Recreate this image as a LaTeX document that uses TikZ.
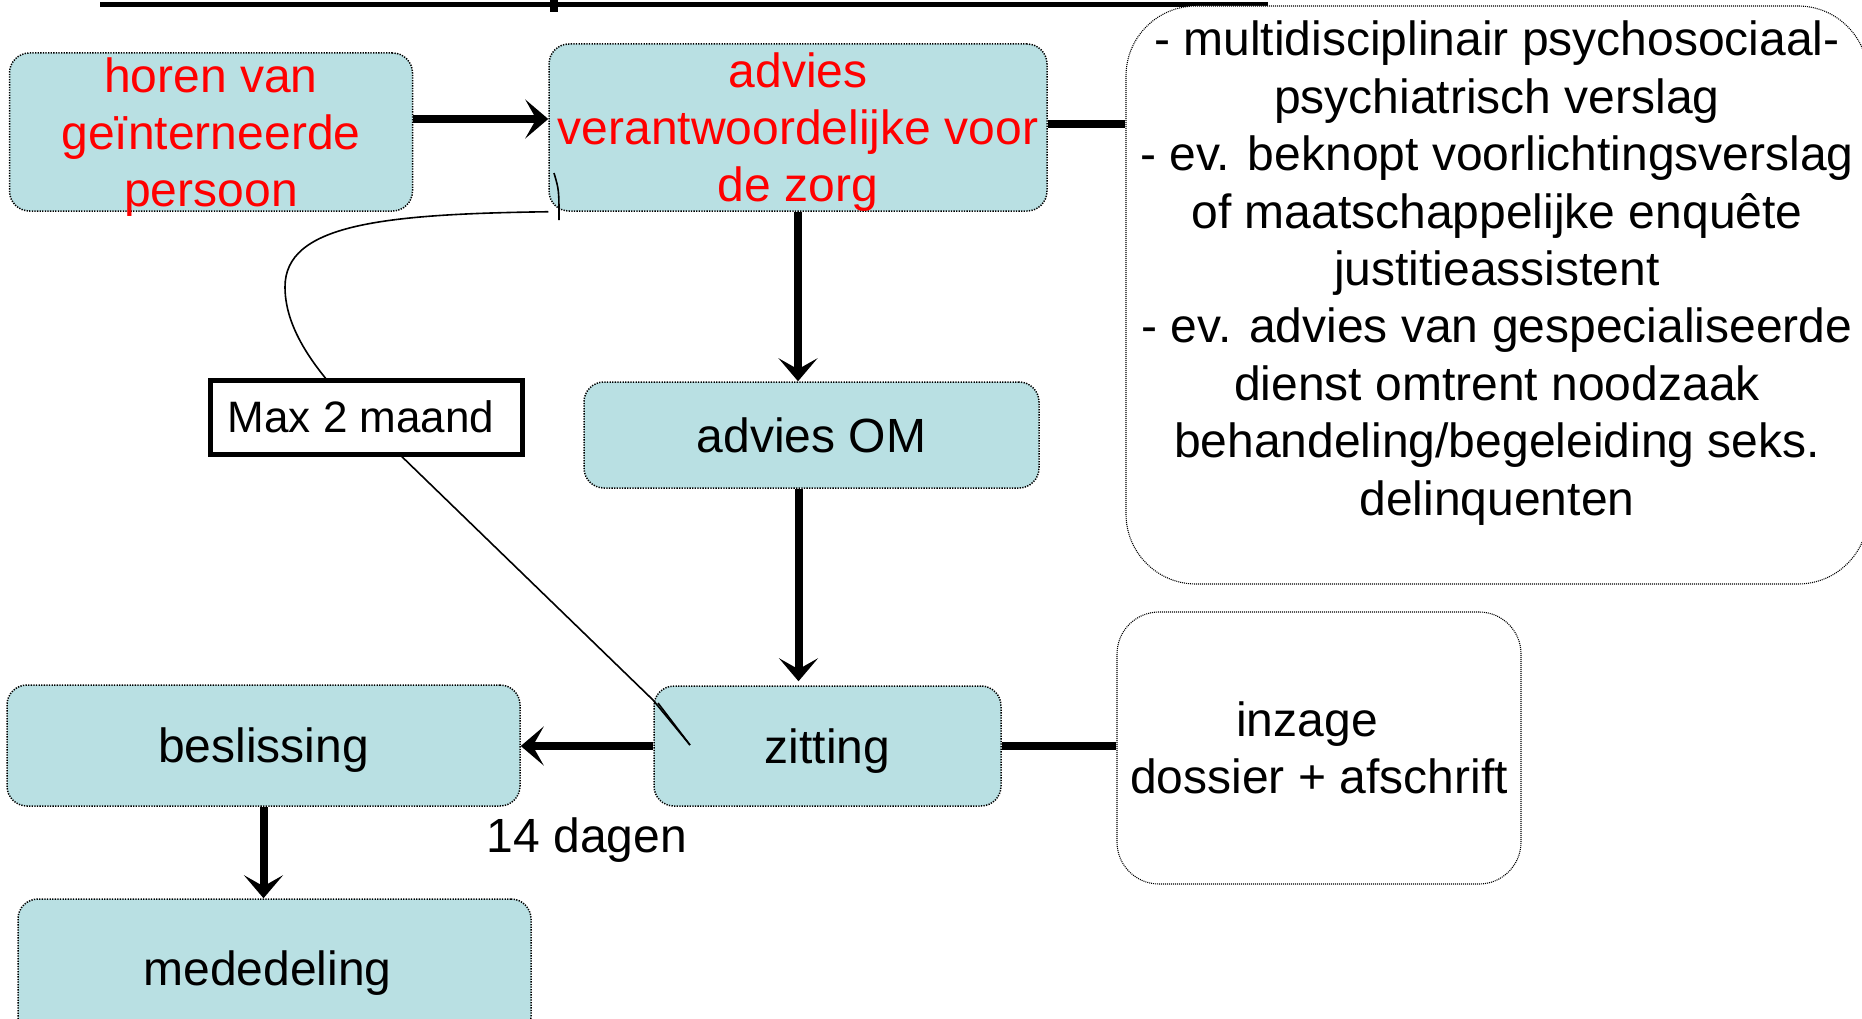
\documentclass[tikz,border=0pt]{standalone}
\usepackage{fontspec}
\setmainfont{Liberation Sans}
\usetikzlibrary{arrows.meta}
\definecolor{vakblauw}{RGB}{185,224,227}

\begin{document}
\begin{tikzpicture}[x=1pt,y=-1pt,
    vak/.style={draw, dash pattern=on 1.3pt off 1.3pt, line width=1.5pt, fill=vakblauw,
      rounded corners=20pt, inner sep=0pt, align=center, text depth=0pt, font=\fontsize{48}{57}\selectfont},
    wolk/.style={draw, dash pattern=on 1pt off 1pt, line width=1.1pt, fill=white,
      inner sep=0pt, align=center, font=\fontsize{48}{57.4}\selectfont},
    maxvak/.style={draw, line width=5pt, fill=white, minimum width=312pt, minimum height=74pt,
      inner sep=0pt, font=\fontsize{44}{52}\selectfont},
    pijl/.style={line width=8pt, -{Stealth[length=23pt,width=39pt,inset=11pt]}},
    lijn/.style={line width=8pt},
    dun/.style={line width=1.6pt}]
  \useasboundingbox (0,0) rectangle (1862,1019);

  \draw[line width=5pt] (100,5) -- (1268,5);
  \draw[line width=8pt] (554,0) -- (554,12);

  \node[vak, text=red, minimum width=403pt, minimum height=158pt] (horen) at (211,132) {horen van\\geïnterneerde\\persoon};
  \node[vak, text=red, minimum width=498pt, minimum height=167pt] (verantw) at (798,127.5) {advies\\verantwoordelijke voor\\de zorg};
  \node[vak, minimum width=455pt, minimum height=106pt] (advOM) at (811.5,435) {advies OM};
  \node[vak, minimum width=347pt, minimum height=120pt] (zitting) at (827.5,746) {zitting};
  \node[vak, minimum width=513pt, minimum height=121pt] (beslissing) at (263.5,745.5) {beslissing};
  \node[vak, minimum width=513pt, minimum height=138pt] (mededeling) at (274.5,968) {\kern-14pt mededeling};

  \node[wolk, rounded corners=70pt, minimum width=742pt, minimum height=578pt] (verslagen) at (1497,295)
    {- multidisciplinair psychosociaal-\\psychiatrisch verslag\\- ev. beknopt voorlichtingsverslag\\of maatschappelijke enquête\\justitieassistent\\- ev. advies van gespecialiseerde\\dienst omtrent noodzaak\\behandeling/begeleiding seks.\\delinquenten\\[-21pt]\strut};
  \node[wolk, rounded corners=42pt, minimum width=404pt, minimum height=272pt] (inzage) at (1319,748) {inzage\kern24pt\\dossier + afschrift};
  \node[font=\fontsize{48}{57}\selectfont, text depth=0pt] (termijn) at (587,835) {14 dagen};

  \coordinate (hpijl) at ([yshift=13pt]horen.east);
  \draw[pijl] (hpijl) -- (hpijl -| verantw.west);
  \draw[pijl] (verantw.south) -- (verantw.south |- advOM.north);
  \coordinate (omvoet) at ([xshift=-13pt]advOM.south);
  \draw[pijl, shorten >=4pt] (omvoet) -- (omvoet |- zitting.north);
  \draw[pijl] (zitting.west) -- (zitting.west -| beslissing.east);
  \draw[pijl] (beslissing.south) -- (beslissing.south |- mededeling.north);
  \coordinate (vrechts) at ([yshift=3pt]verantw.east);
  \draw[lijn] (vrechts) -- (vrechts -| verslagen.west);
  \draw[lijn] (zitting.east) -- (zitting.east -| inzage.west);

  \coordinate (knik) at (653,700);
  \coordinate (punt) at (690,745);
  \draw[dun] (verantw.south west) .. controls (380,214) and (285,225) .. (285,287)
    .. controls (285,333) and (321,377) .. (361,417) node[maxvak, xshift=5pt] (maxduur) {\kern-10pt Max 2 maand} -- (knik) -- (punt);
  \draw[dun] (658,703) -- (punt);
  \draw[dun] (554,173) .. controls (559,190) .. (559,220);
\end{tikzpicture}
\end{document}
